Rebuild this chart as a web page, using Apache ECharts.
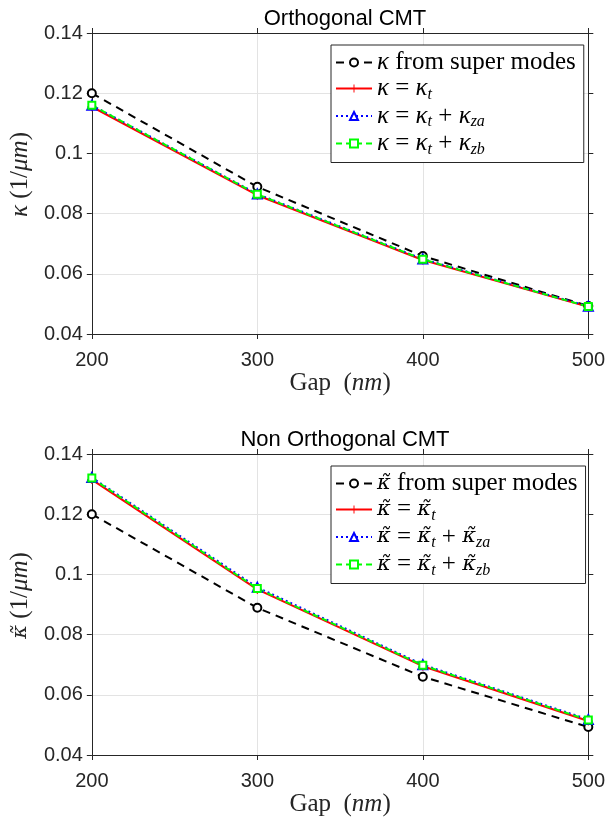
<!DOCTYPE html>
<html><head><meta charset="utf-8">
<script src="https://cdn.jsdelivr.net/npm/echarts@6/dist/echarts.min.js"></script>
<style>html,body{margin:0;padding:0;background:#fff}#c{width:608px;height:818px}</style>
</head><body><div id="c"></div>
<script>
// Data
const gap = [200, 300, 400, 500];
const xTicks = [200, 300, 400, 500];
const yTicks = [0.04, 0.06, 0.08, 0.1, 0.12, 0.14];
// Orthogonal CMT
const orthoSuper = [0.120, 0.0889, 0.0659, 0.0493];
const orthoKt    = [0.1155, 0.0861, 0.0646, 0.0490];
const orthoKza   = [0.1160, 0.0865, 0.0649, 0.0492];
const orthoKzb   = [0.1160, 0.0864, 0.0648, 0.0491];
// Non orthogonal CMT
const nonSuper = [0.120, 0.0889, 0.0660, 0.0493];
const nonKt    = [0.1315, 0.0950, 0.0695, 0.0513];
const nonKza   = [0.1322, 0.0957, 0.0700, 0.0518];
const nonKzb   = [0.1320, 0.0953, 0.0698, 0.0516];

const pts = v => gap.map((g, i) => [g, v[i]]);
const AX = '#262626';
const SERIF = 'Liberation Serif';
const SANS = 'Liberation Sans';
const plusPath = 'path://M-0.12,-1h0.24v0.88h0.88v0.24h-0.88v0.88h-0.24v-0.88h-0.88v-0.24h0.88z';

const gridsTop = [33, 454];
const H = 301;

const rich = {
  k: {fontFamily: SERIF, fontStyle: 'italic', fontSize: 25, color: '#000'},
  q: {fontFamily: 'DejaVu Serif', fontStyle: 'italic', fontSize: 21, color: '#000'},
  r: {fontFamily: SERIF, fontSize: 25, color: '#000'},
  s: {fontFamily: SERIF, fontStyle: 'italic', fontSize: 16, color: '#000', padding: [12, 0, 0, 0], verticalAlign: 'bottom'}
};
const labels = {
  a0: '{k|κ}{r| from super modes}',
  b0: '{k|κ}{r| = }{k|κ}{s|t}',
  c0: '{k|κ}{r| = }{k|κ}{s|t}{r| + }{k|κ}{s|za}',
  d0: '{k|κ}{r| = }{k|κ}{s|t}{r| + }{k|κ}{s|zb}',
  a1: '{q|κ̃}{r| from super modes}',
  b1: '{q|κ̃}{r| = }{q|κ̃}{s|t}',
  c1: '{q|κ̃}{r| = }{q|κ̃}{s|t}{r| + }{q|κ̃}{s|za}',
  d1: '{q|κ̃}{r| = }{q|κ̃}{s|t}{r| + }{q|κ̃}{s|zb}'
};

const grid = [], xAxis = [], yAxis = [], series = [], title = [], legend = [];
const sets = [
  [orthoSuper, orthoKt, orthoKza, orthoKzb, 'Orthogonal CMT', '{k|κ}'],
  [nonSuper, nonKt, nonKza, nonKzb, 'Non Orthogonal CMT', '{q|κ̃}']
];
const nameRich = {
  r: {fontFamily: SERIF, fontSize: 25, color: AX},
  k: {fontFamily: SERIF, fontStyle: 'italic', fontSize: 25, color: AX},
  q: {fontFamily: 'DejaVu Serif', fontStyle: 'italic', fontSize: 21, color: AX}
};
sets.forEach((s, gi) => {
  grid.push({left: 90, top: gridsTop[gi], width: 501, height: H});
  title.push({text: s[4], left: 340, textAlign: 'center', top: gridsTop[gi] - 30,
    textStyle: {fontFamily: SANS, fontSize: 22, fontWeight: 'normal', color: '#000'}});
  const xbase = {type: 'value', gridIndex: gi, min: 200, max: 500, interval: 100,
    axisLine: {onZero: false, lineStyle: {color: AX, width: 1}},
    axisTick: {inside: false, length: 5, lineStyle: {color: AX}}};
  xAxis.push(Object.assign({}, xbase, {position: 'bottom',
    axisLabel: {fontFamily: SANS, fontSize: 20, color: AX, margin: 16},
    splitLine: {show: true, lineStyle: {color: '#e3e3e3', width: 1}},
    name: '{r|Gap  (}{k|nm}{r|)}', nameLocation: 'middle', nameGap: 36,
    nameTextStyle: {rich: nameRich}}));
  xAxis.push(Object.assign({}, xbase, {position: 'top', axisLabel: {show: false}, splitLine: {show: false}}));
  const ybase = {type: 'value', gridIndex: gi, min: 0.04, max: 0.14, interval: 0.02,
    axisLine: {show: true, onZero: false, lineStyle: {color: AX, width: 1}},
    axisTick: {show: true, inside: false, length: 5, lineStyle: {color: AX}}};
  yAxis.push(Object.assign({}, ybase, {position: 'left',
    axisLabel: {fontFamily: SANS, fontSize: 20, color: AX, margin: 9},
    splitLine: {show: true, lineStyle: {color: '#e3e3e3', width: 1}},
    name: s[5] + '{r| (1/}{k|μm}{r|)}', nameLocation: 'middle', nameGap: 55,
    nameTextStyle: {rich: nameRich, padding: [0, 0, 0, 18]}}));
  yAxis.push(Object.assign({}, ybase, {position: 'right', axisLabel: {show: false}, splitLine: {show: false}}));
  const xi = gi * 2, yi = gi * 2;
  const common = {type: 'line', xAxisIndex: xi, yAxisIndex: yi, animation: false, z: 3};
  series.push(Object.assign({}, common, {name: 'a' + gi, data: pts(s[0]), symbol: 'emptyCircle', symbolSize: 8,
    itemStyle: {color: '#000', borderWidth: 2}, lineStyle: {color: '#000', width: 2, type: [8, 6]}}));
  series.push(Object.assign({}, common, {name: 'b' + gi, data: pts(s[1]), symbol: plusPath, symbolSize: 9,
    itemStyle: {color: '#ff0000'}, lineStyle: {color: '#ff0000', width: 2, type: 'solid'}}));
  series.push(Object.assign({}, common, {name: 'c' + gi, data: pts(s[2]), symbol: 'emptyTriangle', symbolSize: 9,
    itemStyle: {color: '#0000ff', borderWidth: 2}, lineStyle: {color: '#0000ff', width: 2, type: [2, 3]}}));
  series.push(Object.assign({}, common, {name: 'd' + gi, data: pts(s[3]), symbol: 'emptyRect', symbolSize: 7,
    itemStyle: {color: '#00ff00', borderWidth: 2}, lineStyle: {color: '#00ff00', width: 2, type: [6, 4]}}));
  legend.push({orient: 'vertical', left: 331, top: gridsTop[gi] + 12, selectedMode: false,
    data: ['a' + gi, 'b' + gi, 'c' + gi, 'd' + gi],
    itemWidth: 36, itemHeight: 10, itemGap: 1,
    padding: [5, 8, 5, 4], borderColor: AX, borderWidth: 1, backgroundColor: '#fff', borderRadius: 0,
    formatter: n => labels[n], textStyle: {rich: rich, padding: [0, 0, 0, 0]}});
});

const chart = echarts.init(document.getElementById('c'), null, {renderer: 'canvas'});
chart.setOption({animation: false, backgroundColor: '#fff', title, grid, xAxis, yAxis, series, legend});
</script></body></html>
